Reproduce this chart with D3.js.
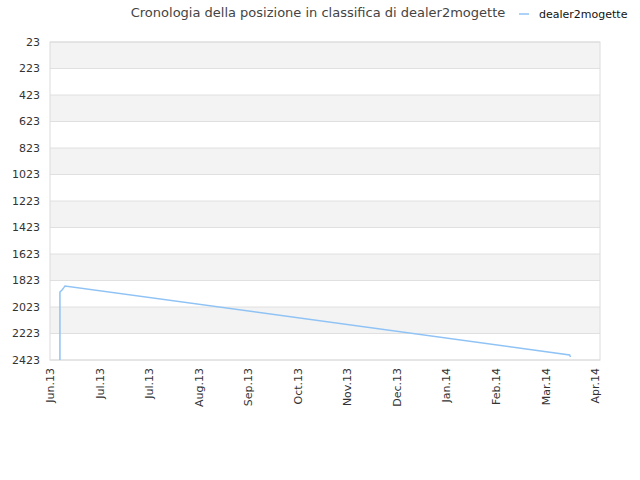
<!DOCTYPE html>
<html><head><meta charset="utf-8">
<script src="https://cdn.jsdelivr.net/npm/d3@7"></script>
<style>body{margin:0;background:#fff}text{font-family:"DejaVu Sans",sans-serif}</style>
</head><body><div id="chart"></div>
<script>
// day offsets from 2013-06-01 and positions in ranking
const days = [6.1, 6.1, 7.4, 8.6, 9.2, 319, 319.5];
const ranks = [2423, 1910, 1895, 1875, 1864, 2385, 2400];
const yTicks = [23, 223, 423, 623, 823, 1023, 1223, 1423, 1623, 1823, 2023, 2223, 2423];
const xLabels = ["Jun.13", "Jul.13", "Jul.13", "Aug.13", "Sep.13", "Oct.13", "Nov.13", "Dec.13", "Jan.14", "Feb.14", "Mar.14", "Apr.14"];
const seriesName = "dealer2mogette";

let margin = { top: 42, right: 40, bottom: 120, left: 50 },
    width = 640 - margin.left - margin.right,
    height = 480 - margin.top - margin.bottom;

let root = d3.select("#chart").append("svg")
    .attr("width", 640).attr("height", 480);
let svg = root.append("g")
    .attr("transform", "translate(" + margin.left + "," + margin.top + ")");

let tickDays = xLabels.map((d, i) => i * 30.42);
let x = d3.scaleLinear().domain([0, 30.42 * 11 + 3]).range([0, width]);
let y = d3.scaleLinear().domain([23, 2423]).range([0, height]);

// alternating bands
svg.selectAll(".band")
    .data(yTicks.slice(0, -1))
    .enter().append("rect")
    .attr("x", 0).attr("width", width)
    .attr("y", d => y(d)).attr("height", d => y(d + 200) - y(d))
    .attr("fill", (d, i) => i % 2 === 0 ? "#f3f3f3" : "#fff");

svg.selectAll(".grid")
    .data(yTicks)
    .enter().append("line")
    .attr("x1", 0).attr("x2", width)
    .attr("y1", d => y(d)).attr("y2", d => y(d))
    .attr("stroke", "#e0e0e0");

svg.append("rect").attr("width", width).attr("height", height)
    .attr("fill", "none").attr("stroke", "#dcdcdc");

// y axis labels
svg.selectAll(".ylab")
    .data(yTicks)
    .enter().append("text")
    .attr("x", -10).attr("y", d => y(d)).attr("dy", "0.35em")
    .attr("text-anchor", "end").attr("font-size", 11).attr("fill", "#333")
    .text(d => d);

// x axis labels
svg.selectAll(".xlab")
    .data(xLabels)
    .enter().append("text")
    .attr("transform", (d, i) => "translate(" + (x(tickDays[i]) + 4) + "," + (height + 8) + ") rotate(-90)")
    .attr("text-anchor", "end").attr("font-size", 11).attr("fill", "#333")
    .text(d => d);

svg.append("path")
    .datum(days.map((d, i) => [d, ranks[i]]))
    .attr("fill", "none").attr("stroke", "#90c3f5").attr("stroke-width", 1.5)
    .attr("d", d3.line().x(d => x(d[0])).y(d => y(d[1])));

// title and legend
root.append("text").attr("x", 318).attr("y", 17).attr("text-anchor", "middle")
    .attr("font-size", 13).attr("fill", "#444")
    .text("Cronologia della posizione in classifica di " + seriesName);
root.append("line").attr("x1", 519).attr("x2", 529).attr("y1", 14).attr("y2", 14)
    .attr("stroke", "#90c3f5").attr("stroke-width", 1.5);
root.append("text").attr("x", 539).attr("y", 18).attr("font-size", 11).attr("fill", "#111")
    .text(seriesName);
</script></body></html>
